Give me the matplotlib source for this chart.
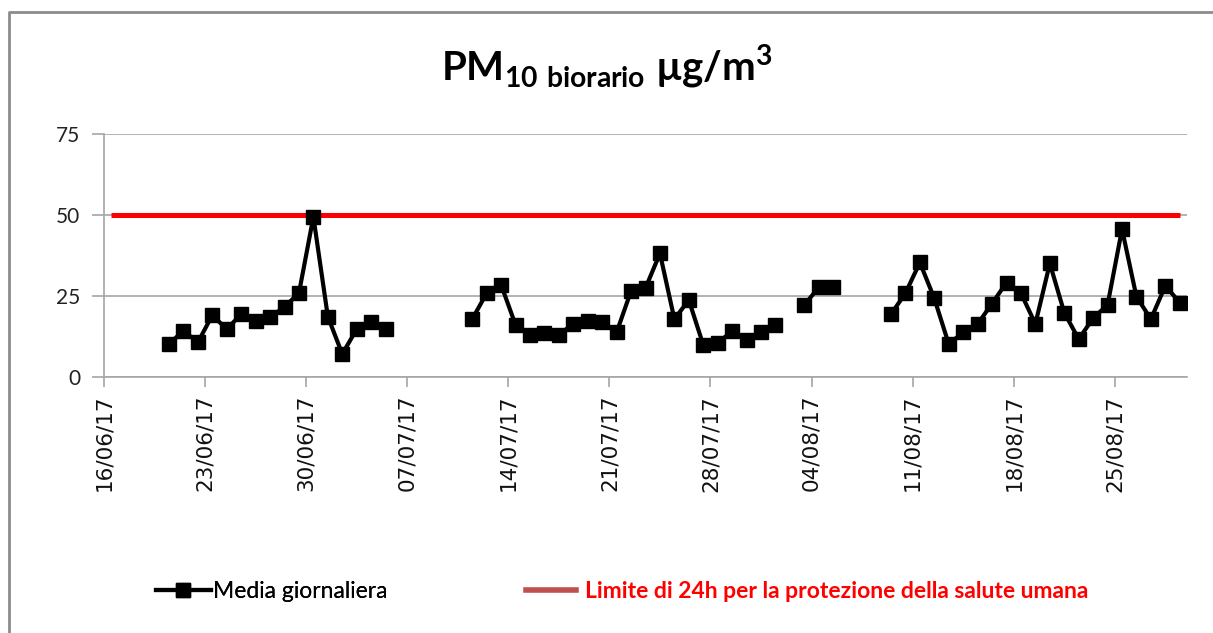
import numpy as np
import pandas as pd
import matplotlib
matplotlib.use("Agg")
import matplotlib.pyplot as plt
import matplotlib.dates as mdates
from matplotlib.lines import Line2D

plt.rcParams['font.family'] = ['Lato', 'DejaVu Sans']

# daily values, one per day from 16/06/17 (None = no data)
start_date = '2017-06-16'
media = [None, None, None, None,
         10.1, 14.2, 10.6, 19.0, 14.7, 19.3, 17.3, 18.3, 21.6, 25.8,
         49.4, 18.6, 7.0, 14.7, 17.0, 14.7,
         None, None, None, None, None,
         17.8, 25.8, 28.4, 16.0, 13.0, 13.5, 13.0, 16.3, 17.3, 16.8,
         13.7, 26.5, 27.4, 38.1, 17.8, 23.7, 9.8, 10.5, 14.0, 11.3,
         13.7, 16.0,
         None,
         22.2, 27.6, 27.6,
         None, None, None,
         19.3, 25.8, 35.3, 24.2, 10.1, 13.7, 16.3, 22.6, 29.1, 25.8,
         16.3, 35.0, 19.8, 11.6, 18.1, 22.2, 45.6, 24.7, 17.8, 28.1, 22.9]
limite = 50
yticks = [0, 25, 50, 75]

days = pd.date_range(start_date, periods=len(media), freq='D')
xpos = days + pd.Timedelta(hours=12)
vals = np.array([np.nan if v is None else v for v in media])

fig = plt.figure(figsize=(12.13, 6.33), dpi=100)
ax = fig.add_axes([104 / 1213, 1 - 376.7 / 633, (1187 - 104) / 1213, (376.7 - 134) / 633])

ax.plot(xpos, [limite] * len(xpos), color='#ff0000', lw=3.6, solid_capstyle='butt', zorder=2)
ax.plot(xpos, vals, color='black', lw=3, marker='s', markersize=10, zorder=3)

ax.set_ylim(0, 75)
ax.set_yticks(yticks)
ax.set_xlim(days[0], days[-1] + pd.Timedelta(days=1))
ax.set_xticks(pd.date_range(start_date, days[-1], freq='7D'))
ax.xaxis.set_major_formatter(mdates.DateFormatter('%d/%m/%y'))

ax.grid(axis='y', color='#a6a6a6', lw=1.2, zorder=0)
for s in ['top', 'right']:
    ax.spines[s].set_visible(False)
for s in ['left', 'bottom']:
    ax.spines[s].set_color('#a6a6a6')
    ax.spines[s].set_linewidth(1.2)
ax.tick_params(axis='y', length=9, width=1.2, color='#a6a6a6', labelsize=15,
               labelcolor='#222222', pad=8)
ax.tick_params(axis='x', length=7, width=1.2, color='#a6a6a6', labelsize=15.5,
               labelcolor='#111111', pad=6)
for lab in ax.get_xticklabels():
    lab.set_rotation(90)
    lab.set_family(['DejaVu Sans'])

fig.text(0.5, 0.895, r'PM$_{\mathregular{10\ biorario}}$ µg/m$^{\mathregular{3}}$',
         ha='center', va='center', fontsize=29, fontweight='bold')

# chart border (top and left edges)
fig.add_artist(Line2D([9 / 1213, 9 / 1213, 1], [0, 1 - 12 / 633, 1 - 12 / 633],
                      transform=fig.transFigure, color='#8c8c8c', lw=2))

h1 = Line2D([], [], color='black', lw=3, marker='s', markersize=10)
h2 = Line2D([], [], color='#c0504d', lw=4)
leg1 = fig.legend([h1], ['Media giornaliera'], loc='center left',
                  bbox_to_anchor=(135 / 1213, 1 - 592 / 633), frameon=False,
                  fontsize=16.5, handlelength=2.4, handletextpad=0.1)
fig.add_artist(leg1)
leg2 = fig.legend([h2], ['Limite di 24h per la protezione della salute umana'],
                  loc='center left', bbox_to_anchor=(505 / 1213, 1 - 592 / 633),
                  frameon=False, fontsize=16.5, handlelength=2.2, handletextpad=0.4)
for t in leg2.get_texts():
    t.set_color('#ff0000')
    t.set_fontweight('bold')

fig.savefig('out.png', dpi=100)
